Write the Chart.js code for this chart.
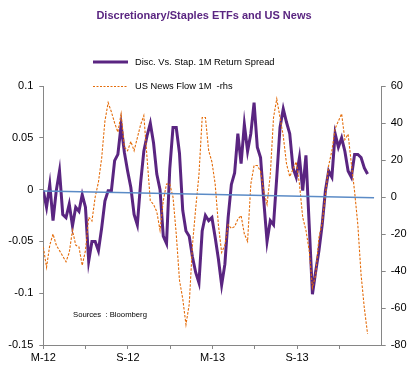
<!DOCTYPE html>
<html>
<head>
<meta charset="utf-8">
<script src="https://cdn.jsdelivr.net/npm/chart.js@4"></script>
<style>
html,body{margin:0;padding:0;background:#fff;}
#wrap{width:408px;height:368px;position:relative;}
</style>
</head>
<body>
<div id="wrap"><canvas id="c" width="408" height="368"></canvas></div>
<script>
// ---- data (weekly observations, week 0 = start of March 2012) ----
const titleText = 'Discretionary/Staples ETFs and US News';
const seriesNames = ['Disc. Vs. Stap. 1M Return Spread', 'US News Flow 1M  -rhs'];
const sourceText = 'Sources  : Bloomberg';

const spread = [
 -0.001,-0.017,0.005,-0.030,-0.001,0.018,-0.024,-0.027,-0.014,-0.035,
 -0.017,-0.021,-0.005,-0.017,-0.069,-0.050,-0.050,-0.059,-0.037,-0.011,
 -0.001,-0.001,0.028,0.034,0.062,0.036,0.018,0.002,-0.024,-0.034,
 0.006,0.037,0.052,0.064,0.045,0.015,0.000,-0.045,-0.052,0.020,
 0.060,0.060,0.035,-0.020,-0.040,-0.045,-0.065,-0.080,-0.090,-0.040,
 -0.025,-0.030,-0.027,-0.046,-0.067,-0.092,-0.072,-0.027,0.005,0.016,
 0.054,0.025,0.063,0.037,0.054,0.084,0.041,0.031,-0.011,-0.050,
 -0.030,-0.034,0.012,0.060,0.078,0.065,0.054,0.021,0.012,0.031,
 -0.001,0.033,-0.034,-0.101,-0.079,-0.059,-0.034,-0.001,0.018,0.012,
 0.054,0.041,0.050,0.037,0.018,0.012,0.034,0.034,0.031,0.021,
 0.015
];
const newsFlow = [
 -27,-38,-26,-20,-26,-29,-32,-35,-30,-18,
 -26,-27,-37,-29,-11,-13,0,8,21,41,
 51,46,40,35,45,27,25,30,25,32,
 39,44,21,-2,-4,-8,-18,-2,7,7,
 0,-20,-45,-55,-69,-58,-26,-6,12,43,
 43,25,19,7,-15,-30,-26,-15,-17,-16,
 -12,-10,-20,-24,7,17,17,14,3,-4,
 12,43,53,43,33,18,11,15,19,7,
 -11,-18,-29,-49,-42,-22,-14,1,17,25,
 37,41,45,31,34,18,3,-15,-42,-60,
 -74
];
// trend line end points (week, value)
const trendWeeks = [0, 102];
const trendValues = [-0.0013, -0.0078];

const tickLabels = ['M-12','','S-12','','M-13','','S-13',''];
const weeksPerQuarter = 52.18 / 4;
const axisWeeks = 104.36;
const leftTicks = [-0.15, -0.1, -0.05, 0, 0.05, 0.1];
const rightTicks = [-80, -60, -40, -20, 0, 20, 40, 60];

// ---- build ----
const spreadPts = spread.map((v, i) => ({x: i, y: v}));
const newsPts = newsFlow.map((v, i) => ({x: i, y: v}));
const trendPts = trendWeeks.map((w, i) => ({x: w, y: trendValues[i]}));

const PURPLE = '#5A2581';
const ORANGE = '#E46C0A';
const BLUE = '#5B8BC6';
const AXIS = '#868686';
const FONT = "'Liberation Sans', Arial, sans-serif";

const overlay = {
  id: 'overlay',
  afterDraw(chart) {
    const ctx = chart.ctx;
    ctx.save();
    // title
    ctx.fillStyle = PURPLE;
    ctx.font = 'bold 11px ' + FONT;
    ctx.textAlign = 'center';
    ctx.textBaseline = 'middle';
    ctx.fillText(titleText, 204, 16);
    // legend
    ctx.textAlign = 'left';
    ctx.font = '9.3px ' + FONT;
    ctx.fillStyle = '#000';
    ctx.strokeStyle = PURPLE; ctx.lineWidth = 3; ctx.setLineDash([]);
    ctx.beginPath(); ctx.moveTo(93, 62); ctx.lineTo(128, 62); ctx.stroke();
    ctx.fillText(seriesNames[0], 135, 62);
    ctx.strokeStyle = ORANGE; ctx.lineWidth = 1; ctx.setLineDash([2, 1.5]);
    ctx.beginPath(); ctx.moveTo(93, 86.5); ctx.lineTo(128, 86.5); ctx.stroke();
    ctx.setLineDash([]);
    ctx.fillText(seriesNames[1], 135, 86);
    // source
    ctx.font = '7.7px ' + FONT;
    ctx.fillText(sourceText, 73, 315);
    ctx.restore();
  }
};

new Chart(document.getElementById('c'), {
  type: 'line',
  data: {
    datasets: [
      {label: seriesNames[0], data: spreadPts, yAxisID: 'y', borderColor: PURPLE, borderWidth: 3,
       pointRadius: 0, tension: 0, order: 3},
      {label: seriesNames[1], data: newsPts, yAxisID: 'y1', borderColor: ORANGE, borderWidth: 1.1,
       borderDash: [2.5, 1.5], pointRadius: 0, tension: 0, order: 2},
      {label: 'trend', data: trendPts, yAxisID: 'y', borderColor: BLUE, borderWidth: 1.5,
       pointRadius: 0, tension: 0, order: 1}
    ]
  },
  options: {
    responsive: false,
    animation: false,
    events: [],
    layout: {padding: {top: 86, left: 0, right: 0, bottom: 0}},
    plugins: {legend: {display: false}, tooltip: {enabled: false}, title: {display: false}},
    scales: {
      x: {
        type: 'linear', min: 0, max: axisWeeks,
        afterBuildTicks(s) { s.ticks = tickLabels.map((l, i) => ({value: i * weeksPerQuarter})); },
        afterFit(s) { s.height = 23; },
        ticks: {autoSkip: false, maxRotation: 0, color: '#000', font: {family: FONT, size: 11}, padding: 2,
                callback: (v, i) => tickLabels[i]},
        grid: {drawOnChartArea: false, color: AXIS, tickLength: 4},
        border: {color: AXIS}
      },
      y: {
        position: 'left', min: -0.15, max: 0.1,
        afterBuildTicks(s) { s.ticks = leftTicks.map(v => ({value: v})); },
        afterFit(s) { s.width = 43.3; },
        ticks: {color: '#000', font: {family: FONT, size: 11}, padding: 6,
                callback: v => String(Number(v.toFixed(2)))},
        grid: {drawOnChartArea: false, color: AXIS, tickLength: 4},
        border: {color: AXIS}
      },
      y1: {
        position: 'right', min: -80, max: 60,
        afterBuildTicks(s) { s.ticks = rightTicks.map(v => ({value: v})); },
        afterFit(s) { s.width = 26.3; },
        ticks: {color: '#000', font: {family: FONT, size: 11}, padding: 5},
        grid: {drawOnChartArea: false, color: AXIS, tickLength: 4},
        border: {color: AXIS}
      }
    }
  },
  plugins: [overlay]
});
</script>
</body>
</html>
